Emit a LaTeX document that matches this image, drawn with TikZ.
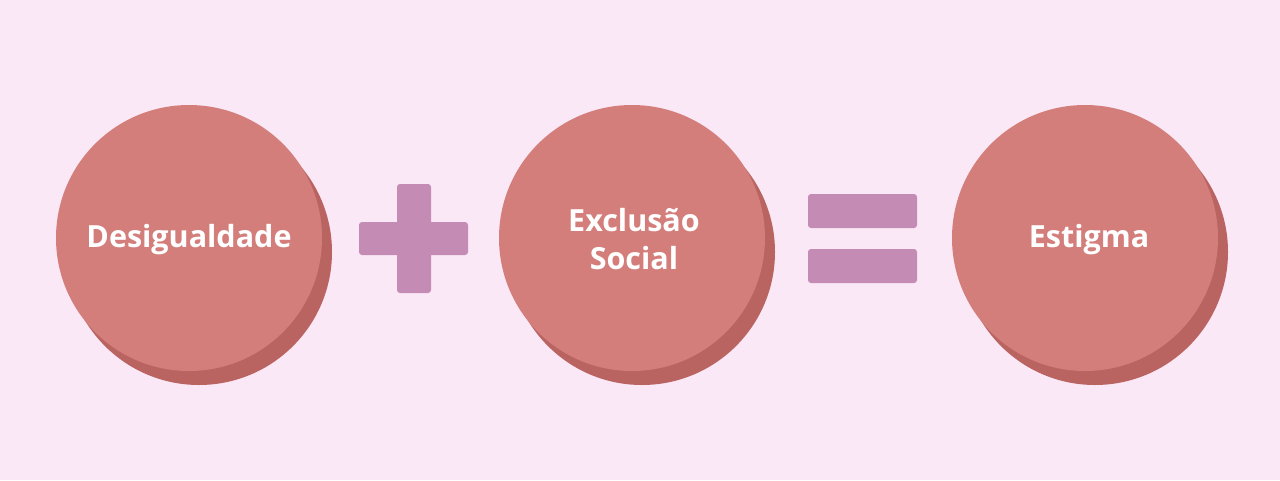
\documentclass[tikz,border=0pt]{standalone}
\usepackage{fontspec}
\setmainfont{Open Sans}
\definecolor{bg}{HTML}{FAE8F6}
\definecolor{disc}{HTML}{D37E7B}
\definecolor{discshadow}{HTML}{BA6462}
\definecolor{sym}{HTML}{C48BB4}
\begin{document}
\begin{tikzpicture}[x=1pt,y=-1pt,
  shadowdisc/.style={circle,fill=discshadow,minimum size=266pt,inner sep=0pt},
  maindisc/.style={circle,fill=disc,minimum size=266pt,inner sep=0pt},
  disclabel/.style={text=white,font=\fontsize{30.5}{38}\selectfont\bfseries,align=center,inner sep=0pt},
  bar/.style={fill=sym,rounded corners=3pt}]
\fill[bg] (0,0) rectangle (1280,480);
\useasboundingbox (0,0) rectangle (1280,480);
% shadows
\node[shadowdisc] (s1) at (199,252) {};
\node[shadowdisc] (s2) at (642,252) {};
\node[shadowdisc] (s3) at (1095,252) {};
% discs
\node[maindisc] (d1) at (189,238) {};
\node[maindisc] (d2) at (632,238) {};
\node[maindisc] (d3) at (1085,238) {};
\node[disclabel] (t1) at (189,240) {Desigualdade};
\node[disclabel] (t2) at (634,239) {Exclusão\\Social};
\node[disclabel] (t3) at (1089,240) {Estigma};
% plus
\fill[bar] (397,184) rectangle (431,293);
\fill[bar] (359,222) rectangle (468,255);
% equals
\fill[bar] (808,194) rectangle (917,228);
\fill[bar] (808,249) rectangle (917,283);
\end{tikzpicture}
\end{document}
